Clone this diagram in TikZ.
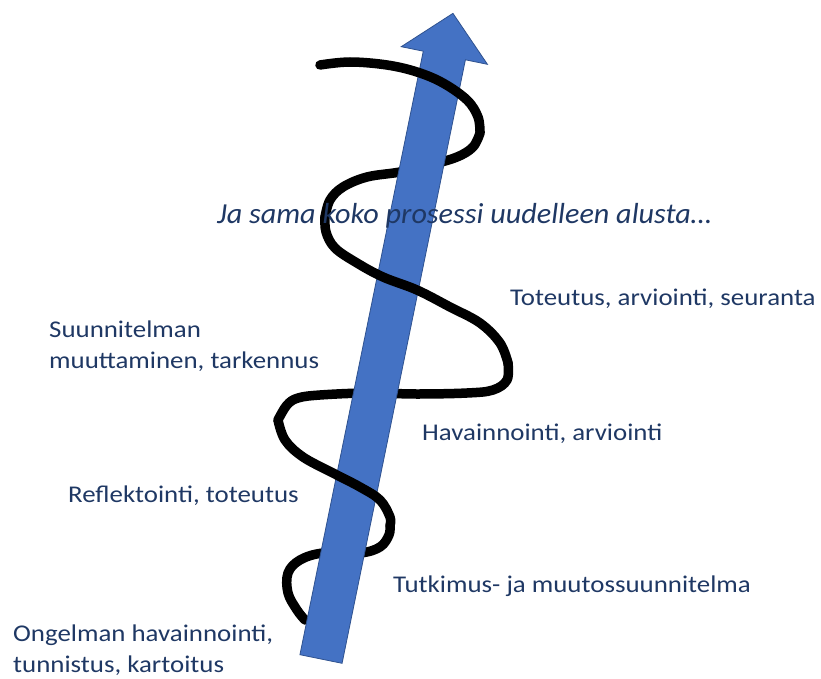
\documentclass[tikz,border=0pt]{standalone}
\usepackage{fontspec}
\setmainfont{Carlito}
\newfontfamily\phasefont[FakeStretch=1.12]{Carlito}
\newfontfamily\againfont[FakeStretch=1.04]{Carlito}
\definecolor{arrowblue}{RGB}{68, 114, 196}
\definecolor{arrowedge}{RGB}{47, 82, 143}
\definecolor{labelnavy}{RGB}{31, 56, 100}
\usetikzlibrary{positioning}

\begin{document}
\begin{tikzpicture}[x=1pt, y=-1pt,
  coil/.style={line width=9.5pt, line cap=round, line join=round, black},
  phase/.style={anchor=base west, inner sep=0pt, text=labelnavy, align=left,
    font=\phasefont\fontsize{24}{31}\selectfont}
]
  \useasboundingbox (0,0) rectangle (821,679);

  % coil, parts behind the arrow
  \draw[coil] plot[smooth, tension=0.6] coordinates {(480,133) (473,147) (457,157) (430,165) (400,172) (367,177) (343,187) (330,200) (325,217)};
  \draw[coil] plot[smooth, tension=0.6] coordinates {(508,363) (507,380) (493,390) (467,393) (417,394) (367,393) (320,395) (298,398) (287,405) (278,420)};
  \draw[coil] plot[smooth, tension=0.6] coordinates {(390,525) (389,535) (380,547) (360,553) (323,553) (300,560) (288,573) (288,593) (297,610) (305,620)};

  % the arrow
  \begin{scope}[shift={(321,659)}, rotate=78.45]
    \filldraw[fill=arrowblue, draw=arrowedge, line width=0.8pt]
      (0,-21.5) -- (616,-21.5) -- (616,-44) -- (659,0) -- (616,44) -- (616,21.5) -- (0,21.5) -- cycle;
  \end{scope}

  % coil, parts in front of the arrow
  \draw[coil] plot[smooth, tension=0.6] coordinates {(320,65) (350,62) (387,65) (417,72) (443,83) (467,100) (478,117) (480,133)};
  \draw[coil] plot[smooth, tension=0.6] coordinates {(325,217) (326,232) (335,248) (357,263) (383,277) (417,290) (450,307) (480,323) (500,343) (508,363)};
  \draw[coil] plot[smooth, tension=0.6] coordinates {(278,420) (285,440) (303,457) (333,473) (360,487) (380,500) (390,517) (390,525)};

  % labels
  \node[phase, font=\againfont\fontsize{29}{34}\selectfont\itshape] (again) at (217,223) {Ja sama koko prosessi uudelleen alusta\dots};
  \node[phase] (implement) at (510,305) {Toteutus, arviointi, seuranta};
  \node[phase] (revise) at (49,368) {Suunnitelman\\muuttaminen, tarkennus};
  \node[phase] (observe) at (422,440) {Havainnointi, arviointi};
  \node[phase] (reflect) at (68,502) {Reflektointi, toteutus};
  \node[phase] (plan) at (393,592) {Tutkimus- ja muutossuunnitelma};
  \node[phase] (problem) at (13,672) {Ongelman havainnointi,\\tunnistus, kartoitus};
\end{tikzpicture}
\end{document}
